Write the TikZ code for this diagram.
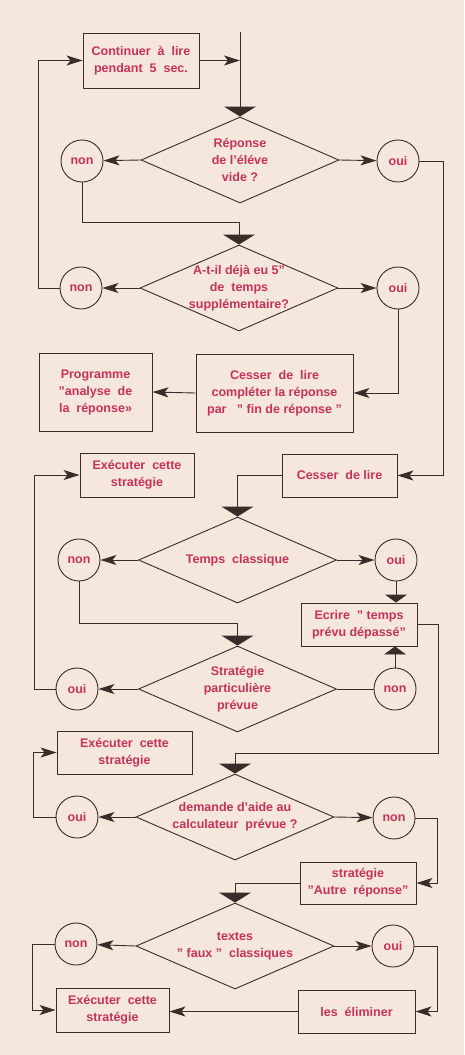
\documentclass[tikz,border=0pt]{standalone}
\usepackage{fontspec}
\setsansfont{Liberation Sans}
\usetikzlibrary{shapes.geometric,arrows.meta,calc}
\definecolor{paper}{RGB}{246,231,220}
\definecolor{ink}{RGB}{58,44,42}
\definecolor{txt}{RGB}{200,50,88}

\begin{document}
\begin{tikzpicture}[x=1pt,y=-1pt]
\tikzstyle{lbl}=[text=txt,align=center,font=\sffamily\bfseries\fontsize{12.5}{17}\selectfont]
\tikzstyle{box}=[lbl,draw=ink,line width=0.9pt,rectangle,inner sep=2pt]
\tikzstyle{test}=[lbl,draw=ink,line width=0.9pt,diamond,aspect=2.3,minimum width=198pt,minimum height=86pt,inner sep=-6pt]
\tikzstyle{rep}=[lbl,draw=ink,line width=0.9pt,circle,minimum size=42pt,inner sep=0pt]
\tikzstyle{wire}=[draw=ink,line width=0.9pt]
\tikzstyle{arr}=[wire,-{Stealth[length=16pt,width=10pt,inset=4pt]}]
\tikzstyle{arrdown}=[wire,-{Triangle[length=10pt,width=32pt]}]
\tikzstyle{arrsmall}=[wire,-{Triangle[length=8pt,width=22pt]}]

\fill[paper] (0,0) rectangle (464,1055);
\useasboundingbox (0,0) rectangle (464,1055);

\coordinate (start) at (240,32);
\node[box,minimum width=116pt,minimum height=55pt] (cont) at (141,60.5) {Continuer \ à \ lire\\pendant \ 5 \ sec.};
\node[test] (d1) at (240,160) {R\'eponse\\de l'\'el\'eve\\vide ?};
\node[rep] (n1) at (82,161) {non};
\node[rep] (o1) at (398,161) {oui};
\node[test] (d2) at (239,288) {A-t-il d\'ej\`a eu 5"\\de \ temps\\suppl\'ementaire?};
\node[rep] (n2) at (81,288) {non};
\node[rep] (o2) at (398,288) {oui};
\node[box,minimum width=113pt,minimum height=78pt] (prog) at (95.5,392) {Programme\\"analyse \ de\\la \ r\'eponse»};
\node[box,minimum width=157pt,minimum height=78pt] (cess1) at (274.5,393) {Cesser \ de \ lire\\compl\'eter la r\'eponse\\par \ \ " fin de r\'eponse "};
\node[box,minimum width=114pt,minimum height=44pt] (exe1) at (137,475) {Ex\'ecuter \ cette\\strat\'egie};
\node[box,minimum width=115pt,minimum height=43pt] (cess2) at (339.5,475.5) {Cesser \ de lire};
\node[test] (d3) at (237.5,560) {Temps \ classique};
\node[rep] (n3) at (79,560) {non};
\node[rep] (o3) at (396,560) {oui};
\node[box,minimum width=116pt,minimum height=43pt] (ecr) at (359,624.5) {Ecrire \ " temps\\pr\'evu d\'epass\'e"};
\node[test] (d4) at (237.5,689) {Strat\'egie\\particuli\`ere\\pr\'evue};
\node[rep] (o4) at (77,689) {oui};
\node[rep] (n4) at (395,689) {non};
\node[box,minimum width=135pt,minimum height=43pt] (exe2) at (124.5,752.5) {Ex\'ecuter \ cette\\strat\'egie};
\node[test] (d5) at (235,817) {demande d'aide au\\calculateur \ pr\'evue ?};
\node[rep] (o5) at (77,817) {oui};
\node[rep] (n5) at (394,818) {non};
\node[box,minimum width=116pt,minimum height=42pt] (autre) at (358,883) {strat\'egie\\"Autre \ r\'eponse"};
\node[test] (d6) at (235,946) {textes\\" faux " \ classiques};
\node[rep] (n6) at (76,944) {non};
\node[rep] (o6) at (393,946) {oui};
\node[box,minimum width=113pt,minimum height=44pt] (exe3) at (112.5,1010) {Ex\'ecuter \ cette\\strat\'egie};
\node[box,minimum width=117pt,minimum height=43pt] (elim) at (356.5,1011.5) {les \ \'eliminer};

\draw[arrdown] (start) -- (d1.north);
\draw[arr] (cont.east) -- (cont.east -| start);
\draw[arr] (d1.west) -- (n1);
\draw[arr] (d1.east) -- (o1);
\draw[arrdown] (n1.south) |- ($(d2.north)+(0,-22)$) -- (d2.north);
\draw[arr] (o1.east) -- ++(24,0) |- (cess2.east);
\draw[arr] (d2.west) -- (n2);
\draw[arr] (d2.east) -- (o2);
\draw[arr] (n2.west) -- ++(-21,0) |- (cont.west);
\draw[arr] (o2.south) |- (cess1.east);
\draw[arr] (cess1.west) -- (prog.east);
\draw[arrdown] (cess2.west) -| (d3.north);
\draw[arr] (d3.west) -- (n3);
\draw[arr] (d3.east) -- (o3);
\draw[arrdown] (n3.south) |- ($(d4.north)+(0,-22)$) -- (d4.north);
\draw[arrsmall] (o3.south) -- (o3.south |- ecr.north);
\draw[arr] (d4.west) -- (o4);
\draw[wire] (d4.east) -- (n4);
\draw[arrsmall] (n4.north) -- (n4.north |- ecr.south);
\draw[arr] (o4.west) -- ++(-21,0) |- (exe1.west);
\draw[arrdown] (ecr.east) -- ++(21,0) |- ($(d5.north)+(0,-20)$) -- (d5.north);
\draw[arr] (d5.west) -- (o5);
\draw[arr] (d5.east) -- (n5);
\draw[arr] (o5.west) -- ++(-22,0) |- (exe2.west);
\draw[arr] (n5.east) -- ++(22,0) |- (autre.east);
\draw[arrdown] (autre.west) -| (d6.north);
\draw[arr] (d6.west) -- (n6);
\draw[arr] (d6.east) -- (o6);
\draw[arr] (n6.west) -- ++(-22,0) |- (exe3.west);
\draw[arr] (o6.east) -- ++(23,0) |- (elim.east);
\draw[arr] (elim.west) -- (elim.west -| exe3.east);
\end{tikzpicture}
\end{document}
